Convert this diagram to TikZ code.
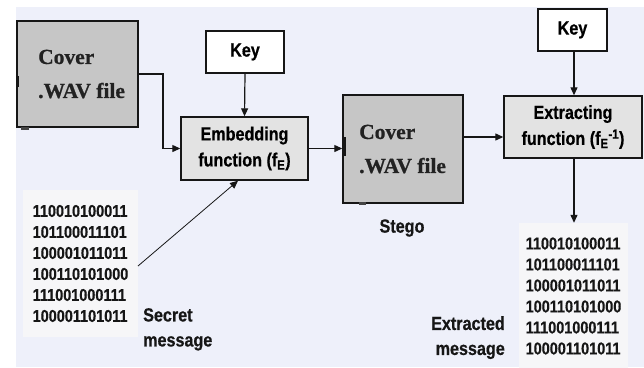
\documentclass[tikz,border=0pt]{standalone}
\usepackage{fontspec}
\setmainfont{Liberation Sans}
\newfontfamily\narrowsans[FakeStretch=0.85,FakeBold=0.6]{Liberation Sans}
\newfontfamily\coverserif[FakeBold=0.8]{Liberation Serif}
\usetikzlibrary{arrows.meta}
\definecolor{bgcol}{HTML}{EEF0FA}
\definecolor{covergray}{HTML}{C6C6C6}
\definecolor{funcgray}{HTML}{E3E3E3}
\definecolor{bitsbg}{HTML}{F6F6F8}
\definecolor{ink}{HTML}{161616}
\definecolor{serifink}{HTML}{222222}
\tikzset{
  boxline/.style={draw=ink, line width=1.4pt},
  coverbox/.style={boxline, fill=covergray, inner sep=0pt},
  covertext/.style={inner sep=0pt, align=left, text=serifink,
    font=\coverserif\bfseries\fontsize{21.5}{34}\selectfont},
  keybox/.style={boxline, fill=white, inner sep=0pt,
    font=\narrowsans\bfseries\fontsize{19}{24}\selectfont},
  funcbox/.style={boxline, fill=funcgray, inner sep=0pt, align=center,
    font=\narrowsans\bfseries\fontsize{19}{26}\selectfont},
  bitsblock/.style={fill=bitsbg, inner sep=0pt, align=left, text=ink,
    font=\narrowsans\bfseries\fontsize{17}{21}\selectfont},
  caption/.style={inner sep=0pt, text=ink,
    font=\narrowsans\bfseries\fontsize{19}{25}\selectfont},
  flow/.style={draw=ink, line width=1.2pt, -{Triangle[length=8pt,width=7pt]}},
}
\begin{document}
\begin{tikzpicture}[x=1pt, y=-1pt]
  \useasboundingbox (0,0) rectangle (644,367);
  \fill[white] (0,0) rectangle (644,367);
  \fill[bgcol] (16,7) rectangle (644,367);

  % cover audio file
  \node[coverbox, minimum width=121pt, minimum height=106pt] (cover) at (77.5,74) {};
  \node[covertext, anchor=west] (covertxt) at (38,74) {Cover\\.WAV file};
  \fill[ink] (16.5,76) rectangle (18.5,87);
  \fill[ink!80] (21,127) rectangle (29,130);

  % keys
  \node[keybox, minimum width=78pt, minimum height=42pt] (key1) at (245,52) {Key};
  \node[keybox, minimum width=69pt, minimum height=42pt] (key2) at (572.5,30) {Key};

  % embedding and extracting functions
  \node[funcbox, minimum width=127pt, minimum height=63pt] (embed) at (244.5,148.5)
    {Embedding\\function (f\textsubscript{E})};
  \node[funcbox, minimum width=138pt, minimum height=62pt] (extract) at (573,127)
    {Extracting\\function (f\textsubscript{E}\textsuperscript{-1})};

  % stego audio file
  \node[coverbox, minimum width=120pt, minimum height=108pt] (stego) at (403,149) {};
  \node[covertext, anchor=west] (stegotxt) at (359,149) {Cover\\.WAV file};
  \fill[ink] (343,137) rectangle (345.5,156);
  \fill[ink!80] (359,202) rectangle (366,205);
  \node[caption] (stegolbl) at (402,228) {Stego};

  % secret and extracted bit streams
  \node[bitsblock, minimum width=115pt, minimum height=147pt] (secret) at (80.5,263.5)
    {110010100011\\101100011101\\100001011011\\100110101000\\111001000111\\100001101011};
  \node[caption, anchor=north west, align=left] (secretlbl) at (143,308)
    {Secret\\message};
  \node[bitsblock, minimum width=109pt, minimum height=146pt] (extracted) at (573.5,296)
    {110010100011\\101100011101\\100001011011\\100110101000\\111001000111\\100001101011};
  \node[caption, anchor=north east, align=right] (extractedlbl) at (505,316)
    {Extracted\\message};

  % connectors
  \coordinate (secretout) at (138,266);
  \draw[flow] (cover.east |- 0,74) -- (163,74) |- (embed.west);
  \draw[flow] (key1.south) -- (embed.north);
  \draw[flow, line width=0.8pt] (secretout) -- (embed.south -| 238,0);
  \draw[flow] (embed.east) -- (stego.west |- embed.east);
  \draw[flow] (stego.east |- 0,137) -- (extract.west |- 0,137);
  \draw[flow] (key2.south -| 574,0) -- (extract.north -| 574,0);
  \draw[flow] (extract.south -| 574,0) -- (extracted.north -| 574,0);
\end{tikzpicture}
\end{document}
